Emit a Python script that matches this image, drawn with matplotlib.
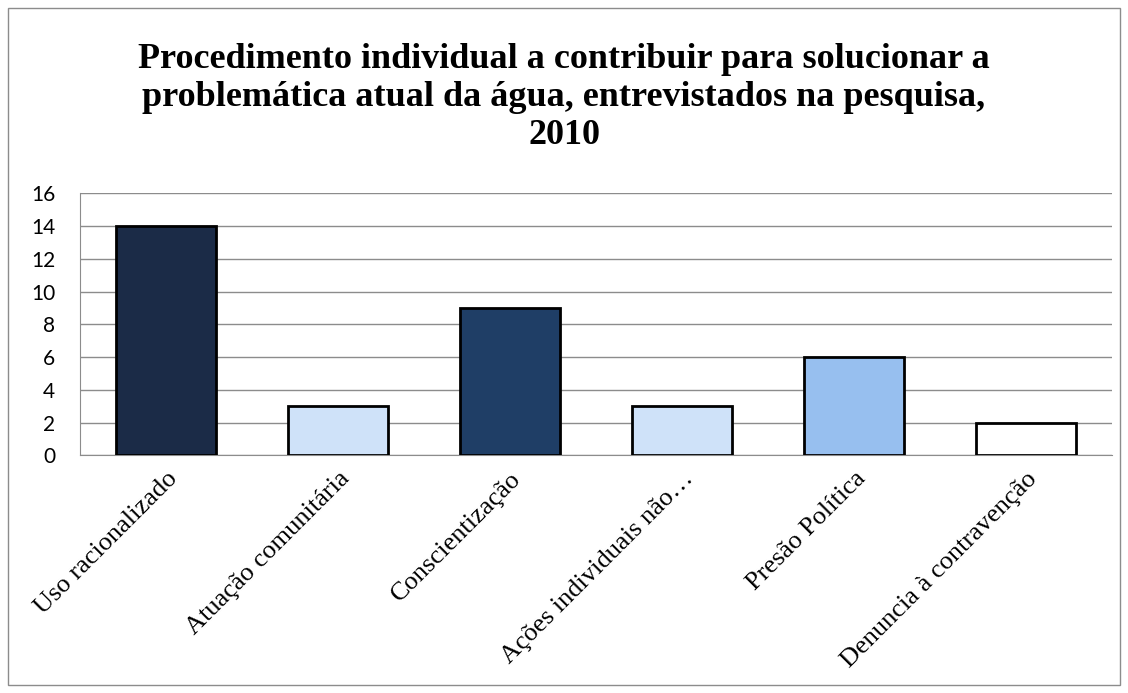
import matplotlib.pyplot as plt
from matplotlib.patches import Rectangle

categorias = ["Uso racionalizado", "Atuação comunitária", "Conscientização",
              "Ações individuais não…", "Presão Política", "Denuncia à contravenção"]
valores = [14, 3, 9, 3, 6, 2]
cores = ["#1b2b47", "#cfe2f9", "#1f3e66", "#cfe2f9", "#97bfef", "#ffffff"]
yticks = [0, 2, 4, 6, 8, 10, 12, 14, 16]

fig = plt.figure(figsize=(11.28, 6.93), dpi=100)
ax = fig.add_axes([0.071, 0.343, 0.915, 0.378])

x = range(len(categorias))
ax.bar(x, valores, width=0.58, color=cores, edgecolor="black", linewidth=2, zorder=3)

ax.set_ylim(0, 16)
ax.set_xlim(-0.5, len(categorias) - 0.5)
ax.set_yticks(yticks)
ax.set_yticklabels([str(v) for v in yticks], fontsize=15, family="Lato")
ax.grid(axis="y", color="#8c8c8c", linewidth=1, zorder=0)
ax.set_xticks(list(x))
ax.set_xticklabels(categorias, rotation=45, ha="right", rotation_mode="anchor",
                   fontsize=19, family="Liberation Serif")
ax.tick_params(axis="x", length=0, pad=9)
ax.tick_params(axis="y", length=0, pad=18)
for s in ["top", "right"]:
    ax.spines[s].set_visible(False)
ax.spines["left"].set_color("#8c8c8c")
ax.spines["bottom"].set_color("#8c8c8c")

fig.text(0.5, 0.86, "Procedimento individual a contribuir para solucionar a\n"
         "problemática atual da água, entrevistados na pesquisa,\n2010",
         ha="center", va="center", fontsize=26, fontweight="bold",
         family="Liberation Serif", linespacing=1.2)

fig.patches.append(Rectangle((0.007, 0.012), 0.986, 0.976, transform=fig.transFigure,
                             fill=False, edgecolor="#8c8c8c", linewidth=1))

fig.savefig("out.png", dpi=100)
